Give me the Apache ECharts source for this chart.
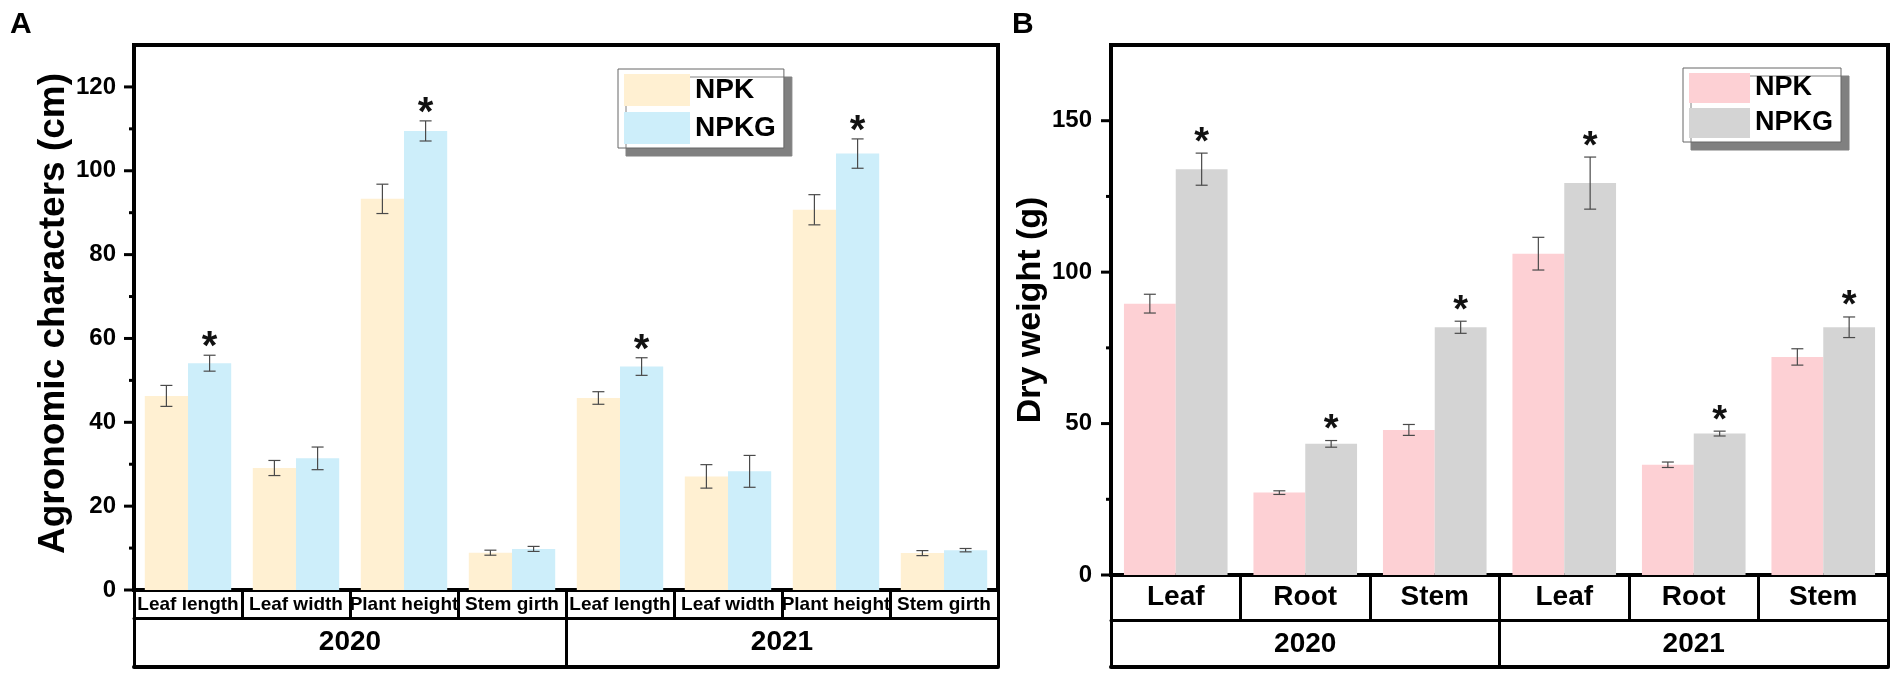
<!DOCTYPE html>
<html>
<head>
<meta charset="utf-8">
<title>Agronomic characters and dry weight</title>
<script src="https://cdn.jsdelivr.net/npm/echarts@6/dist/echarts.min.js"></script>
<style>
html, body { margin: 0; padding: 0; background: #fff; }
#main { width: 1901px; height: 677px; }
</style>
</head>
<body>
<div id="main"></div>
<script>
// 图A：农艺性状
var traitList = ['Leaf length', 'Leaf width', 'Plant height', 'Stem girth', 'Leaf length', 'Leaf width', 'Plant height', 'Stem girth'];
var traitNPK = [46.3, 29.1, 93.3, 8.9, 45.8, 27.1, 90.7, 8.8];
var traitNPKErr = [2.5, 1.8, 3.5, 0.6, 1.5, 2.8, 3.6, 0.6];
var traitNPKG = [54.1, 31.4, 109.5, 9.8, 53.3, 28.3, 104.1, 9.5];
var traitNPKGErr = [1.9, 2.7, 2.4, 0.6, 2.1, 3.8, 3.5, 0.4];
var traitStar = [1, 0, 1, 0, 1, 0, 1, 0];

// 图B：干重
var organList = ['Leaf', 'Root', 'Stem', 'Leaf', 'Root', 'Stem'];
var weightNPK = [89.6, 27.2, 47.9, 106.1, 36.4, 72.0];
var weightNPKErr = [3.1, 0.6, 1.8, 5.4, 0.9, 2.7];
var weightNPKG = [134.0, 43.3, 81.8, 129.4, 46.7, 81.8];
var weightNPKGErr = [5.3, 1.1, 2.0, 8.6, 0.8, 3.4];
var weightStar = [1, 1, 1, 1, 1, 1];

var yearList = ['2020', '2021'];
var traitTicks = [0, 20, 40, 60, 80, 100, 120];
var traitMinorTicks = [10, 30, 50, 70, 90, 110];
var weightTicks = [0, 50, 100, 150];
var weightMinorTicks = [25, 75, 125];

var FONT = '"Liberation Sans", Arial, sans-serif';
var NARROW = '"Liberation Sans Narrow", "Liberation Sans", sans-serif';

function errData(vals, errs, stars) {
    var out = [];
    for (var i = 0; i < vals.length; i++) {
        out.push([i, vals[i], errs[i], stars ? stars[i] : 0]);
    }
    return out;
}

function errRender(side, starSize, starDrop) {
    return function (params, api) {
        var i = api.value(0), v = api.value(1), e = api.value(2);
        var cw = api.size([1, 0])[0];
        var cx = api.coord([i, v])[0] + side * cw * 0.2;
        var yTop = api.coord([i, v + e])[1];
        var yBot = api.coord([i, v - e])[1];
        var cap = 6;
        var ls = { stroke: '#4a4a4a', lineWidth: 1.2 };
        var kids = [
            { type: 'line', shape: { x1: cx, y1: yTop, x2: cx, y2: yBot }, style: ls },
            { type: 'line', shape: { x1: cx - cap, y1: yTop, x2: cx + cap, y2: yTop }, style: ls },
            { type: 'line', shape: { x1: cx - cap, y1: yBot, x2: cx + cap, y2: yBot }, style: ls }
        ];
        if (api.value(3)) {
            kids.push({
                type: 'text', x: cx, y: yTop + starDrop,
                style: { text: '*', font: 'bold ' + starSize + 'px ' + FONT, fill: '#111', align: 'center', verticalAlign: 'bottom' }
            });
        }
        return { type: 'group', children: kids };
    };
}

// y轴刻度线（主刻度和次刻度），顶部不画
function tickData(list) {
    return list.map(function (v) { return [0, v]; });
}
function tickRender(len) {
    return function (params, api) {
        var y = api.coord([0, api.value(1)])[1];
        var x0 = api.coord([0, api.value(1)])[0] - api.size([1, 0])[0] / 2;
        return { type: 'line', shape: { x1: x0 - len, y1: y, x2: x0, y2: y }, style: { stroke: '#000', lineWidth: 3 } };
    };
}

function tickFormatter(list) {
    return function (v) { return list.indexOf(v) >= 0 ? String(v) : ''; };
}

// 表格式的分类轴
function tableAxis(grid, data, offset, tickLen, lineW, fontSize, margin, showLabel) {
    return {
        gridIndex: grid, type: 'category', data: data, position: 'bottom', offset: offset,
        axisLine: { show: true, onZero: false, lineStyle: { color: '#000', width: lineW } },
        axisTick: { show: tickLen > 0, interval: 0, length: tickLen, lineStyle: { color: '#000', width: 3 } },
        axisLabel: {
            show: showLabel, interval: 0, margin: margin, color: '#000',
            fontFamily: NARROW, fontWeight: 'bold', fontSize: fontSize
        },
        splitLine: { show: false }
    };
}

var myChart = echarts.init(document.getElementById('main'));

var option = {
    backgroundColor: '#fff',
    animation: false,
    graphic: [
        { type: 'text', left: 10, top: 10, style: { text: 'A', font: 'bold 30px ' + FONT, fill: '#000' } },
        { type: 'text', left: 1012, top: 10, style: { text: 'B', font: 'bold 30px ' + FONT, fill: '#000' } }
    ],
    legend: [
        {
            data: ['NPK', 'NPKG'], orient: 'vertical', left: 618, top: 69,
            icon: 'rect', itemWidth: 66, itemHeight: 32, itemGap: 6,
            padding: [5, 8, 4, 6], selectedMode: false,
            backgroundColor: '#fff', borderColor: '#666', borderWidth: 1,
            shadowColor: '#808080', shadowOffsetX: 8, shadowOffsetY: 8, shadowBlur: 0,
            textStyle: { fontFamily: FONT, fontWeight: 'bold', fontSize: 28, color: '#000' }
        },
        {
            data: ['NPK-B', 'NPKG-B'], orient: 'vertical', left: 1683, top: 68,
            icon: 'rect', itemWidth: 61, itemHeight: 30, itemGap: 5,
            padding: [5, 8, 4, 6], selectedMode: false,
            backgroundColor: '#fff', borderColor: '#666', borderWidth: 1,
            shadowColor: '#808080', shadowOffsetX: 8, shadowOffsetY: 8, shadowBlur: 0,
            formatter: function (n) { return n.replace('-B', ''); },
            textStyle: { fontFamily: FONT, fontWeight: 'bold', fontSize: 27, color: '#000' }
        }
    ],
    grid: [
        { left: 134, top: 45, width: 864, height: 545, show: true, borderColor: '#000', borderWidth: 4, backgroundColor: 'transparent' },
        { left: 1111, top: 45, width: 777, height: 530, show: true, borderColor: '#000', borderWidth: 4, backgroundColor: 'transparent' }
    ],
    xAxis: [
        tableAxis(0, traitList, 0, 28, 4, 19, 5, true),
        tableAxis(0, yearList, 28, 49, 3, 28, 10, true),
        tableAxis(0, yearList, 77, 0, 4, 12, 0, false),
        tableAxis(1, organList, 0, 45, 4, 28, 8, true),
        tableAxis(1, yearList, 45, 47, 3, 28, 10, true),
        tableAxis(1, yearList, 92, 0, 4, 12, 0, false)
    ],
    yAxis: [
        {
            gridIndex: 0, type: 'value', min: 0, max: 130, interval: 20, position: 'left',
            name: 'Agronomic characters (cm)', nameLocation: 'middle', nameGap: 52,
            nameTextStyle: { fontFamily: FONT, fontWeight: 'bold', fontSize: 37, color: '#000', padding: [0, 0, 0, 8] },
            axisLine: { show: true, lineStyle: { color: '#000', width: 4 } },
            axisTick: { show: false },
            axisLabel: { margin: 18, color: '#000', fontFamily: FONT, fontWeight: 'bold', fontSize: 24, formatter: tickFormatter(traitTicks) },
            splitLine: { show: false }
        },
        {
            gridIndex: 1, type: 'value', min: 0, max: 175, interval: 50, position: 'left',
            name: 'Dry weight (g)', nameLocation: 'middle', nameGap: 59,
            nameTextStyle: { fontFamily: FONT, fontWeight: 'bold', fontSize: 34, color: '#000' },
            axisLine: { show: true, lineStyle: { color: '#000', width: 4 } },
            axisTick: { show: false },
            axisLabel: { margin: 19, color: '#000', fontFamily: FONT, fontWeight: 'bold', fontSize: 24, formatter: tickFormatter(weightTicks) },
            splitLine: { show: false }
        }
    ],
    series: [
        { name: 'NPK', type: 'bar', xAxisIndex: 0, yAxisIndex: 0, data: traitNPK, barGap: '0%', barCategoryGap: '20%', itemStyle: { color: '#FFF0D2' }, silent: true },
        { name: 'NPKG', type: 'bar', xAxisIndex: 0, yAxisIndex: 0, data: traitNPKG, barGap: '0%', barCategoryGap: '20%', itemStyle: { color: '#CDEEFA' }, silent: true },
        { name: 'errA1', type: 'custom', xAxisIndex: 0, yAxisIndex: 0, data: errData(traitNPK, traitNPKErr), renderItem: errRender(-1, 40, 13), z: 5, silent: true },
        { name: 'errA2', type: 'custom', xAxisIndex: 0, yAxisIndex: 0, data: errData(traitNPKG, traitNPKGErr, traitStar), renderItem: errRender(1, 40, 13), z: 5, silent: true },
        { name: 'tickA', type: 'custom', xAxisIndex: 0, yAxisIndex: 0, data: tickData(traitTicks), renderItem: tickRender(10), clip: false, z: 6, silent: true },
        { name: 'minorA', type: 'custom', xAxisIndex: 0, yAxisIndex: 0, data: tickData(traitMinorTicks), renderItem: tickRender(5), clip: false, z: 6, silent: true },
        { name: 'NPK-B', type: 'bar', xAxisIndex: 3, yAxisIndex: 1, data: weightNPK, barGap: '0%', barCategoryGap: '20%', itemStyle: { color: '#FDD0D4' }, silent: true },
        { name: 'NPKG-B', type: 'bar', xAxisIndex: 3, yAxisIndex: 1, data: weightNPKG, barGap: '0%', barCategoryGap: '20%', itemStyle: { color: '#D4D4D4' }, silent: true },
        { name: 'errB1', type: 'custom', xAxisIndex: 3, yAxisIndex: 1, data: errData(weightNPK, weightNPKErr), renderItem: errRender(-1, 38, 9), z: 5, silent: true },
        { name: 'errB2', type: 'custom', xAxisIndex: 3, yAxisIndex: 1, data: errData(weightNPKG, weightNPKGErr, weightStar), renderItem: errRender(1, 38, 9), z: 5, silent: true },
        { name: 'tickB', type: 'custom', xAxisIndex: 3, yAxisIndex: 1, data: tickData(weightTicks), renderItem: tickRender(10), clip: false, z: 6, silent: true },
        { name: 'minorB', type: 'custom', xAxisIndex: 3, yAxisIndex: 1, data: tickData(weightMinorTicks), renderItem: tickRender(5), clip: false, z: 6, silent: true }
    ]
};

myChart.setOption(option);
</script>
</body>
</html>
